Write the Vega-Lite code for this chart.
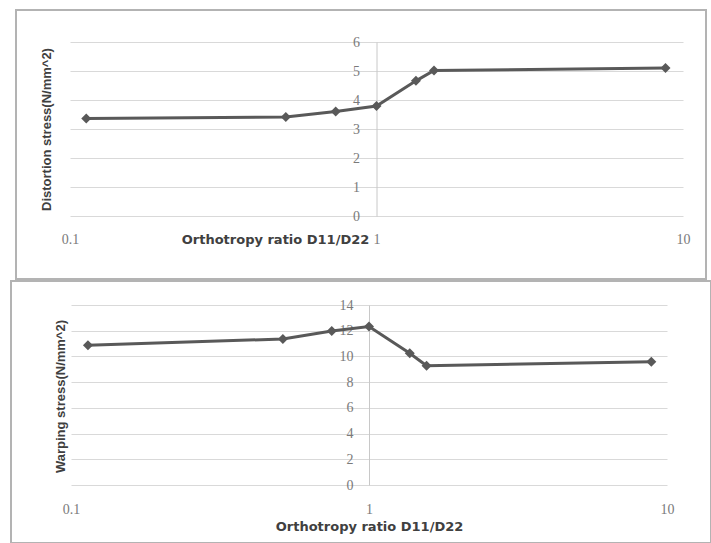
{
  "$schema": "https://vega.github.io/schema/vega-lite/v6.json",
  "padding": {"left": 10, "top": 9, "right": 0, "bottom": 0},
  "background": "white",
  "center": true,
  "spacing": 0,
  "datasets": {
    "distortion": [
      {"ratio": 0.113, "stress": 3.36},
      {"ratio": 0.506, "stress": 3.41},
      {"ratio": 0.736, "stress": 3.6},
      {"ratio": 1.0, "stress": 3.79},
      {"ratio": 1.345, "stress": 4.66},
      {"ratio": 1.54, "stress": 5.02},
      {"ratio": 8.77, "stress": 5.1}
    ],
    "warping": [
      {"ratio": 0.114, "stress": 10.87},
      {"ratio": 0.514, "stress": 11.36},
      {"ratio": 0.75, "stress": 11.98},
      {"ratio": 1.0, "stress": 12.32},
      {"ratio": 1.37, "stress": 10.25},
      {"ratio": 1.56, "stress": 9.27},
      {"ratio": 8.86, "stress": 9.58}
    ]
  },
  "config": {
    "view": {"stroke": "#b3b3b3", "strokeWidth": 2},
    "axis": {
      "labelFont": "Liberation Serif",
      "labelFontSize": 14,
      "labelColor": "#7a7a7a",
      "titleFont": "Liberation Sans",
      "titleFontWeight": "bold",
      "titleFontSize": 13,
      "titleColor": "#404040",
      "gridColor": "#d9d9d9",
      "gridWidth": 1.2,
      "ticks": false,
      "tickSize": 0,
      "domainColor": "#c8c8c8",
      "labelFlush": false,
      "labelOverlap": false,
      "labelBound": false
    }
  },
  "vconcat": [
    {
      "width": 690,
      "height": 269,
      "data": {"name": "distortion"},
      "encoding": {
        "x": {
          "field": "ratio",
          "type": "quantitative",
          "scale": {"type": "log", "domain": [0.1, 10], "nice": false, "range": [54, 667]},
          "axis": {
            "orient": "bottom",
            "values": [0.1, 1, 10],
            "format": "~g",
            "grid": false,
            "domain": false,
            "offset": -39.7,
            "labelPadding": 0,
            "labelBaseline": "middle",
            "title": "Orthotropy ratio D11/D22",
            "titleX": 259,
            "titleY": 0,
            "titleAlign": "center",
            "titleBaseline": "middle",
            "titleFont": "DejaVu Sans",
            "titleFontSize": 13
          }
        },
        "y": {
          "field": "stress",
          "type": "quantitative",
          "scale": {"domain": [0, 6], "nice": false, "zero": false, "range": [206, 32]},
          "axis": {
            "orient": "left",
            "offset": -360.5,
            "values": [0, 1, 2, 3, 4, 5, 6],
            "grid": true,
            "domain": true,
            "labelPadding": 17,
            "title": "Distortion stress(N/mm^2)",
            "titleX": -330.5,
            "titleY": 119,
            "titleAngle": 270,
            "titleAlign": "center",
            "titleBaseline": "middle"
          }
        }
      },
      "layer": [
        {"mark": {"type": "line", "color": "#595959", "strokeWidth": 3}},
        {"mark": {"type": "point", "shape": "diamond", "filled": true, "size": 100, "color": "#595959", "opacity": 1}}
      ]
    },
    {
      "width": 700,
      "height": 262,
      "data": {"name": "warping"},
      "encoding": {
        "x": {
          "field": "ratio",
          "type": "quantitative",
          "scale": {"type": "log", "domain": [0.1, 10], "nice": false, "range": [60, 656]},
          "axis": {
            "orient": "bottom",
            "values": [0.1, 1, 10],
            "format": "~g",
            "grid": false,
            "domain": false,
            "offset": -34,
            "labelPadding": 0,
            "labelBaseline": "middle",
            "title": "Orthotropy ratio D11/D22",
            "titleX": 358,
            "titleY": 17.3,
            "titleAlign": "center",
            "titleBaseline": "middle",
            "titleFont": "DejaVu Sans",
            "titleFontSize": 13
          }
        },
        "y": {
          "field": "stress",
          "type": "quantitative",
          "scale": {"domain": [0, 14], "nice": false, "zero": false, "range": [204, 24]},
          "axis": {
            "orient": "left",
            "offset": -358,
            "values": [0, 2, 4, 6, 8, 10, 12, 14],
            "grid": true,
            "domain": true,
            "labelPadding": 16,
            "title": "Warping stress(N/mm^2)",
            "titleX": -309,
            "titleY": 115,
            "titleAngle": 270,
            "titleAlign": "center",
            "titleBaseline": "middle"
          }
        }
      },
      "layer": [
        {"mark": {"type": "line", "color": "#595959", "strokeWidth": 3}},
        {"mark": {"type": "point", "shape": "diamond", "filled": true, "size": 100, "color": "#595959", "opacity": 1}}
      ]
    }
  ]
}
